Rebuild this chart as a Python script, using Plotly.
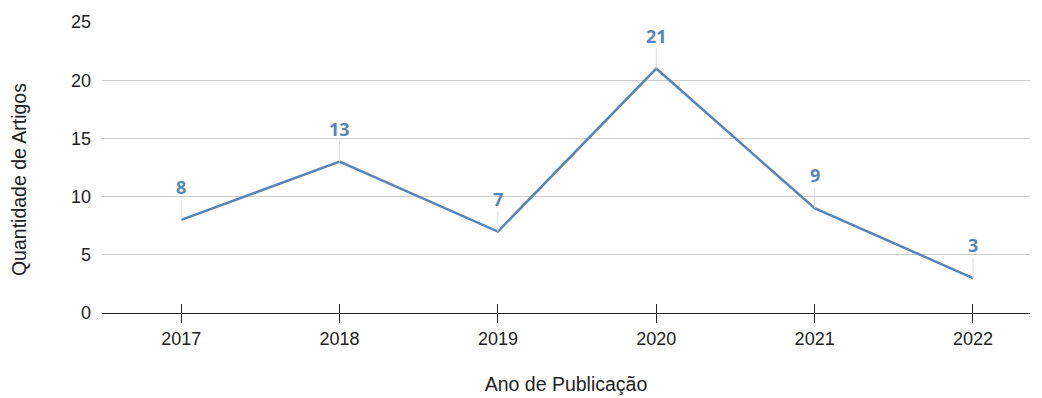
import plotly.graph_objects as go

anos = [2017, 2018, 2019, 2020, 2021, 2022]
artigos = [8, 13, 7, 21, 9, 3]
y_ticks = [0, 5, 10, 15, 20, 25]

cor = "#5a84b3"
texto = "#222222"

fig = go.Figure()
fig.add_trace(go.Scatter(
    x=anos, y=artigos, mode="lines",
    line=dict(color=cor, width=2.5),
    hoverinfo="skip", showlegend=False,
))

# value labels with thin leader lines
for a, v in zip(anos, artigos):
    fig.add_annotation(
        x=a, y=v, text=f"<b>{v}</b>",
        showarrow=True, arrowhead=0, arrowwidth=1, arrowcolor="#dddddd",
        ax=0, ay=-20, standoff=0, startstandoff=0,
        font=dict(family="Open Sans", size=18, color=cor),
        yanchor="bottom", borderpad=0,
    )

# y-axis title, placed a little below the plot's vertical centre
fig.add_annotation(
    text="Quantidade de Artigos", textangle=-90,
    xref="paper", yref="paper", x=-0.0894, y=0.457,
    xanchor="center", yanchor="middle", showarrow=False,
    font=dict(size=19.5, color=texto),
)

fig.update_layout(
    width=1042, height=398,
    margin=dict(l=102, r=12, t=22, b=85),
    paper_bgcolor="white", plot_bgcolor="white",
    font=dict(family="Liberation Sans, Arial", size=18, color=texto),
    xaxis=dict(
        range=[2016.5, 2022.36], tickvals=anos, ticktext=[str(a) for a in anos],
        showgrid=False, zeroline=False, automargin=False,
        showline=True, linecolor=texto, linewidth=1,
        ticks="outside", ticklen=9, tickcolor=texto,
        title=dict(text="Ano de Publicação", standoff=29,
                   font=dict(size=19.5, color=texto)),
    ),
    xaxis2=dict(
        range=[2016.5, 2022.36], tickvals=anos, showticklabels=False,
        overlaying="x", side="bottom", anchor="y", automargin=False,
        showgrid=False, zeroline=False, showline=False,
        ticks="inside", ticklen=9, tickcolor=texto,
    ),
    yaxis=dict(
        range=[0, 25], tickvals=y_ticks, automargin=False,
        showgrid=True, gridcolor="#cccccc", gridwidth=1,
        zeroline=False, showline=False,
        ticks="", ticklabelstandoff=10,
    ),
)

# empty trace on the second x axis so its inner ticks render
fig.add_trace(go.Scatter(x=[anos[0]], y=[None], xaxis="x2", showlegend=False,
                         hoverinfo="skip"))

fig.write_html("out.html")
